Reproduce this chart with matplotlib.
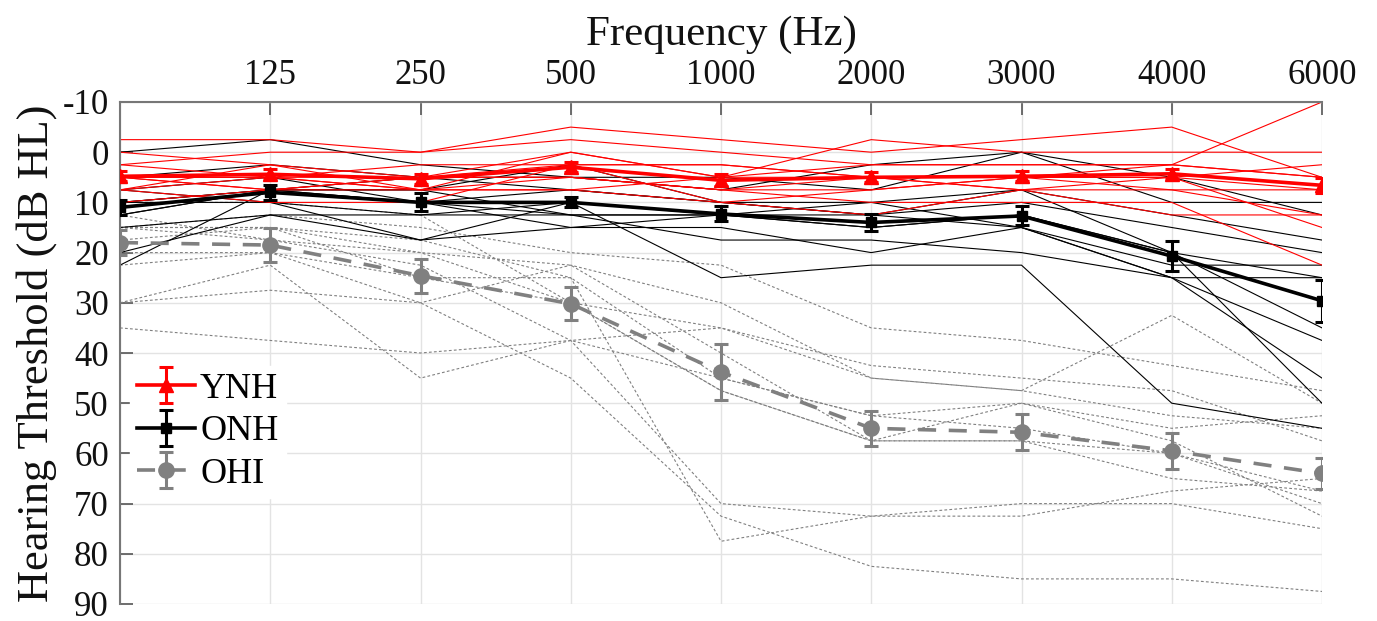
import matplotlib
matplotlib.use("Agg")
import matplotlib.pyplot as plt
import numpy as np

# ---------------- data ----------------
freq_labels = ["", "125", "250", "500", "1000", "2000", "3000", "4000", "6000"]
y_ticks = [-10, 0, 10, 20, 30, 40, 50, 60, 70, 80, 90]
y_tick_labels = ["-10", "0", "10", "20", "30", "40", "50", "60", "70", "80", "90"]

ynh_mean = [4.8, 4.4, 5.3, 3.0, 5.6, 5.0, 4.8, 4.3, 6.6]
ynh_err = [1.0, 1.0, 1.0, 1.0, 1.2, 1.0, 1.0, 1.0, 1.5]
onh_mean = [11.0, 8.0, 10.0, 10.0, 12.3, 14.0, 12.7, 20.7, 29.6]
onh_err = [1.5, 1.5, 1.8, 1.0, 1.5, 1.6, 1.9, 3.0, 4.2]
ohi_mean = [18.0, 18.5, 24.6, 30.2, 43.8, 55.0, 55.8, 59.5, 64.0]
ohi_err = [2.5, 3.4, 3.4, 3.3, 5.5, 3.5, 3.6, 3.6, 3.1]

ynh_subjects = [
    [-2.5, -2.5, 0, -5, -2.5, 0, -2.5, -5, 5],
    [2.5, 0, 0, -2.5, 0, 2.5, 2.5, 2.5, -10],
    [0, 2.5, 5, 0, 5, -2.5, 0, 0, 0],
    [5, 5, 2.5, 2.5, 2.5, 5, 5, 5, 7.5],
    [7.5, 5, 7.5, 5, 7.5, 7.5, 5, 2.5, 5],
    [5, 7.5, 7.5, 7.5, 5, 5, 5, 7.5, 12.5],
    [7.5, 10, 10, 2.5, 10, 12.5, 7.5, 5, 15],
    [2.5, 5, 5, 5, 7.5, 10, 10, 10, 22.5],
    [5, 7.5, 5, 2.5, 2.5, 5, 7.5, 12.5, 12.5],
    [7.5, 2.5, 7.5, 0, 5, 2.5, 2.5, 2.5, 5],
    [5, 5, 7.5, 7.5, 10, 7.5, 5, 5, 2.5],
    [10, 7.5, 5, 5, 7.5, 5, 7.5, 7.5, 7.5],
]
onh_subjects = [
    [0, -2.5, 2.5, 5, 5, 7.5, 0, 10, 10],
    [5, 2.5, 5, 5, 7.5, 2.5, 0, 5, 12.5],
    [7.5, 5, 10, 7.5, 10, 10, 7.5, 12.5, 17.5],
    [12.5, 7.5, 7.5, 12.5, 12.5, 15, 12.5, 20, 25],
    [15, 12.5, 17.5, 15, 15, 20, 15, 25, 37.5],
    [20, 12.5, 12.5, 12.5, 17.5, 17.5, 20, 25, 45],
    [22.5, 7.5, 7.5, 2.5, 10, 12.5, 7.5, 20, 50],
    [10, 10, 17.5, 10, 25, 22.5, 22.5, 50, 55],
    [12.5, 7.5, 10, 15, 12.5, 12.5, 10, 15, 20],
    [7.5, 10, 12.5, 10, 12.5, 10, 15, 22.5, 22.5],
    [10, 7.5, 5, 7.5, 10, 12.5, 15, 25, 25],
    [10, 7.5, 10, 12.5, 12.5, 15, 12.5, 20, 35],
]
ohi_subjects = [
    [15, 12.5, 15, 20, 22.5, 35, 37.5, 42.5, 47.5],
    [15, 15, 20, 30, 35, 45, 47.5, 52.5, 55],
    [20, 20, 25, 25, 45, 52.5, 50, 55, 52.5],
    [17.5, 15, 25, 30, 47.5, 57.5, 57.5, 60, 67.5],
    [15, 17.5, 22.5, 37.5, 70, 72.5, 72.5, 67.5, 65],
    [22.5, 20, 30, 45, 72.5, 82.5, 85, 85, 87.5],
    [30, 27.5, 30, 22.5, 30, 45, 47.5, 32.5, 50],
    [35, 37.5, 40, 37.5, 35, 42.5, 45, 47.5, 57.5],
    [30, 22.5, 45, 37.5, 45, 52.5, 55, 60, 70],
    [15, 15, 17.5, 25, 77.5, 72.5, 70, 70, 75],
    [12.5, 17.5, 20, 22.5, 40, 57.5, 57.5, 65, 67.5],
    [10, 10, 12.5, 30, 47.5, 57.5, 50, 57.5, 72.5],
]

# ---------------- plot ----------------
plt.rcParams['font.family'] = ['Liberation Serif', 'DejaVu Serif']
plt.rcParams['axes.unicode_minus'] = False

fig = plt.figure(figsize=(13.77, 6.21), dpi=100)
ax = fig.add_axes([120/1377, 1-604/621, 1202/1377, 502/621])

x = np.arange(len(freq_labels))
gray = '#808080'
txt = '#111111'

for s in ohi_subjects:
    ax.plot(x, s, color=gray, lw=0.8, dashes=(2.5, 2), zorder=2)
for s in onh_subjects:
    ax.plot(x, s, color='black', lw=0.8, zorder=2)
for s in ynh_subjects:
    ax.plot(x, s, color='red', lw=0.8, zorder=2)

ax.errorbar(x, ynh_mean, yerr=ynh_err, color='red', lw=2.6, marker='^', ms=10,
            capsize=5, elinewidth=2.2, capthick=2.2, label='YNH', zorder=5)
ax.errorbar(x, onh_mean, yerr=onh_err, color='black', lw=2.6, marker='s', ms=7,
            capsize=5, elinewidth=2.2, capthick=2.2, label='ONH', zorder=5)
eb = ax.errorbar(x, ohi_mean, yerr=ohi_err, color=gray, lw=2.6, marker='o', ms=11,
                 capsize=5, elinewidth=2.2, capthick=2.2, label='OHI', zorder=4)
eb[-1][0].set_linestyle('-')
eb[0].set_dashes((5, 3.5))

ax.set_xlim(0, len(freq_labels) - 1)
ax.set_ylim(90, -10)
ax.set_xticks(x)
ax.set_xticklabels(freq_labels)
ax.set_yticks(y_ticks)
ax.set_yticklabels(y_tick_labels)
ax.xaxis.tick_top()
ax.xaxis.set_label_position('top')
ax.tick_params(axis='both', direction='in', length=9, width=1.2, color='#555555',
               labelsize=25, labelcolor=txt, pad=8)
ax.tick_params(axis='x', pad=7)
ax.set_xlabel('Frequency (Hz)', fontsize=31, color=txt, labelpad=10)
ax.set_ylabel('Hearing Threshold (dB HL)', fontsize=32, color=txt, labelpad=4)

ax.grid(True, color='#e3e3e3', lw=1.0, zorder=0)
ax.set_axisbelow(True)
for side in ['right', 'bottom']:
    ax.spines[side].set_visible(False)
for side in ['top', 'left']:
    ax.spines[side].set_color('#777777')
    ax.spines[side].set_linewidth(1.5)

leg = ax.legend(loc='upper left', bbox_to_anchor=(0.008, 0.475), fontsize=26,
                frameon=True, facecolor='white', edgecolor='white', framealpha=1,
                handlelength=1.6, handletextpad=0.15, labelspacing=0.25,
                borderpad=0.2, borderaxespad=0)
leg.set_zorder(10)

fig.savefig('out.png', dpi=100)
